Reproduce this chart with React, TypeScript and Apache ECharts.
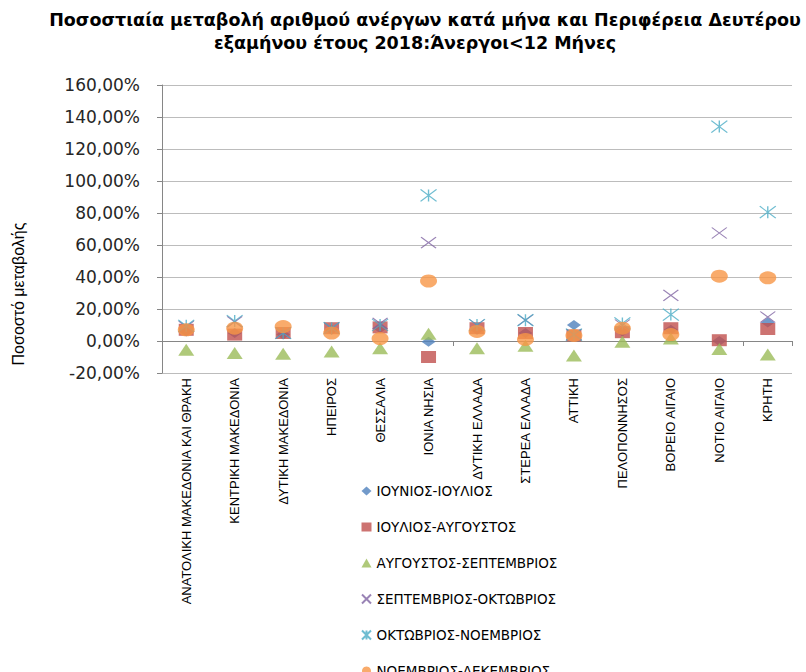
import React, { useEffect, useRef } from "react";
import * as echarts from "echarts";

const titleLines = [
  "Ποσοστιαία μεταβολή αριθμού ανέργων κατά μήνα και Περιφέρεια Δευτέρου",
  "εξαμήνου έτους 2018:Άνεργοι<12 Μήνες",
];
const yAxisName = "Ποσοστό μεταβολής";

const categories = [
  "ΑΝΑΤΟΛΙΚΗ ΜΑΚΕΔΟΝΙΑ ΚΑΙ ΘΡΑΚΗ",
  "ΚΕΝΤΡΙΚΗ ΜΑΚΕΔΟΝΙΑ",
  "ΔΥΤΙΚΗ ΜΑΚΕΔΟΝΙΑ",
  "ΗΠΕΙΡΟΣ",
  "ΘΕΣΣΑΛΙΑ",
  "ΙΟΝΙΑ ΝΗΣΙΑ",
  "ΔΥΤΙΚΗ ΕΛΛΑΔΑ",
  "ΣΤΕΡΕΑ ΕΛΛΑΔΑ",
  "ΑΤΤΙΚΗ",
  "ΠΕΛΟΠΟΝΝΗΣΟΣ",
  "ΒΟΡΕΙΟ ΑΙΓΑΙΟ",
  "ΝΟΤΙΟ ΑΙΓΑΙΟ",
  "ΚΡΗΤΗ",
];

const seriesNames = [
  "ΙΟΥΝΙΟΣ-ΙΟΥΛΙΟΣ",
  "ΙΟΥΛΙΟΣ-ΑΥΓΟΥΣΤΟΣ",
  "ΑΥΓΟΥΣΤΟΣ-ΣΕΠΤΕΜΒΡΙΟΣ",
  "ΣΕΠΤΕΜΒΡΙΟΣ-ΟΚΤΩΒΡΙΟΣ",
  "ΟΚΤΩΒΡΙΟΣ-ΝΟΕΜΒΡΙΟΣ",
  "ΝΟΕΜΒΡΙΟΣ-ΔΕΚΕΜΒΡΙΟΣ",
];

// values in percent
const junJul = [6, 5, 4, 7, 8, -0.5, 7, 5, 10, 6, 7, 0, 11.5];
const julAug = [7, 4, 5, 8, 8.5, -10, 8, 5, 3.5, 5.5, 8, 0.5, 7.5];
const augSep = [-5.5, -7.5, -8, -6.5, -4.5, 4.5, -4.5, -3, -9, -0.5, 1.5, -5, -8.5];
const sepOct = [9, 12, 5, 8, 11, 61.5, 10, 13, 4, 10, 28.5, 67.5, 15];
const octNov = [9.5, 12.5, 5, 8, 10, 91, 10, 13, 4, 11, 16.5, 134, 80.5];
const novDec = [7, 8, 9, 5, 1.5, 37.5, 6, 1, 3.5, 8, 4, 40.5, 39.5];

const yTicks = { min: -20, max: 160, interval: 20 };

const X_PATH = "path://M0,0L10,10M10,0L0,10";
const STAR_PATH = "path://M0,0L10,10M10,0L0,10M5,0L5,10";

export default function App() {
  const ref = useRef<HTMLDivElement>(null);
  useEffect(() => {
    if (!ref.current) return;
    const chart = echarts.init(ref.current, null, { renderer: "svg" });
    const mk = (
      name: string,
      data: number[],
      symbol: string,
      size: number[],
      color: string,
      stroke?: boolean
    ) => ({
      name,
      type: "scatter",
      xAxisIndex: 0,
      data,
      symbol,
      symbolSize: size,
      itemStyle: stroke
        ? { color: "rgba(0,0,0,0)", borderColor: color, borderWidth: 1.2 }
        : { color },
      emphasis: { disabled: true },
    });
    const titleStyle = {
      fontFamily: "DejaVu Sans",
      fontWeight: "bold",
      fontSize: 17.5,
      fill: "#000",
      textAlign: "center",
      textVerticalAlign: "middle",
    };
    chart.setOption({
      animation: false,
      backgroundColor: "#ffffff",
      textStyle: { fontFamily: "DejaVu Sans" },
      graphic: [
        {
          type: "text",
          x: 425,
          y: 20,
          style: { ...titleStyle, text: titleLines[0] },
        },
        {
          type: "text",
          x: 415,
          y: 43,
          style: { ...titleStyle, text: titleLines[1] },
        },
        {
          type: "text",
          x: 18,
          y: 294,
          rotation: Math.PI / 2,
          style: {
            text: yAxisName,
            fontFamily: "Liberation Sans Narrow, Liberation Sans",
            fontSize: 16,
            fill: "#000",
            textAlign: "center",
            textVerticalAlign: "middle",
          },
        },
      ],
      grid: { left: 162, top: 85, width: 630, height: 288 },
      legend: {
        orient: "vertical",
        left: 356,
        top: 479,
        height: 260,
        itemWidth: 10,
        itemHeight: 9,
        itemGap: 22,
        data: seriesNames,
        textStyle: { fontFamily: "DejaVu Sans", fontSize: 13.5, color: "#000" },
      },
      xAxis: [
        {
          type: "category",
          data: categories,
          position: "bottom",
          axisLine: { show: false, onZero: false },
          axisTick: { show: false },
          splitLine: { show: false },
          axisLabel: {
            rotate: 90,
            interval: 0,
            margin: 5,
            fontFamily: "Liberation Sans Narrow, Liberation Sans",
            fontSize: 13,
            color: "#000",
          },
        },
        {
          type: "category",
          data: categories,
          position: "bottom",
          axisLine: { show: true, onZero: true, lineStyle: { color: "#868686" } },
          axisTick: { show: true, length: 5, lineStyle: { color: "#868686" } },
          axisLabel: { show: false },
          splitLine: { show: false },
        },
      ],
      yAxis: {
        type: "value",
        min: yTicks.min,
        max: yTicks.max,
        interval: yTicks.interval,
        axisLine: { show: true, lineStyle: { color: "#868686" } },
        axisTick: { show: true, length: 5, lineStyle: { color: "#868686" } },
        splitLine: { show: true, lineStyle: { color: "#bcbcbc", width: 1 } },
        axisLabel: {
          margin: 22,
          fontFamily: "DejaVu Sans",
          fontSize: 17,
          color: "#262626",
          formatter: (v: number) => v.toFixed(2).replace(".", ",") + "%",
        },
      },
      series: [
        mk(seriesNames[0], junJul, "diamond", [14, 10], "#4F81BD"),
        mk(seriesNames[1], julAug, "rect", [15, 12], "#C0504D"),
        mk(seriesNames[2], augSep, "triangle", [16, 12], "#9BBB59"),
        mk(seriesNames[3], sepOct, X_PATH, [15, 11], "#8064A2", true),
        mk(seriesNames[4], octNov, STAR_PATH, [16, 12], "#4BACC6", true),
        mk(seriesNames[5], novDec, "circle", [17, 13], "#F79646"),
      ],
    });
    return () => chart.dispose();
  }, []);
  return (
    <div
      ref={ref}
      style={{ position: "fixed", left: 0, top: 0, width: 806, height: 672 }}
    />
  );
}
